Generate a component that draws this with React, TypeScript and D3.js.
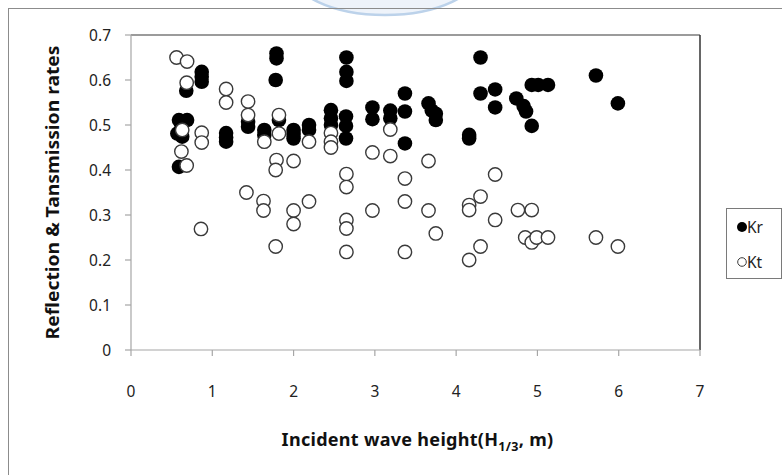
import React from "react";
import * as d3 from "d3";

const krX = [0.59, 0.69, 0.57, 0.63, 0.62, 0.59, 0.68, 0.87, 0.87, 0.87, 1.17, 1.17, 1.17, 1.44, 1.44, 1.64, 1.64, 1.79, 1.79, 1.78, 1.82, 2.0, 2.0, 2.0, 2.19, 2.19, 2.46, 2.46, 2.46, 2.65, 2.65, 2.65, 2.645, 2.645, 2.645, 2.97, 2.97, 3.19, 3.19, 3.37, 3.37, 3.37, 3.66, 3.7, 3.75, 3.75, 4.16, 4.16, 4.3, 4.3, 4.48, 4.48, 4.74, 4.83, 4.86, 4.93, 4.93, 5.01, 5.13, 5.72, 5.99];
const krY = [0.511, 0.511, 0.481, 0.474, 0.5, 0.407, 0.576, 0.618, 0.607, 0.596, 0.482, 0.472, 0.463, 0.507, 0.496, 0.489, 0.478, 0.659, 0.648, 0.6, 0.511, 0.489, 0.48, 0.47, 0.5, 0.489, 0.533, 0.515, 0.5, 0.65, 0.618, 0.598, 0.519, 0.498, 0.47, 0.539, 0.513, 0.532, 0.515, 0.57, 0.53, 0.459, 0.548, 0.532, 0.525, 0.511, 0.478, 0.47, 0.65, 0.57, 0.579, 0.539, 0.559, 0.542, 0.53, 0.498, 0.589, 0.589, 0.589, 0.61, 0.548];

const ktX = [0.56, 0.69, 0.685, 0.63, 0.87, 0.87, 0.62, 0.685, 0.861, 1.17, 1.17, 1.44, 1.44, 1.42, 1.64, 1.63, 1.63, 1.82, 1.82, 1.79, 1.78, 1.78, 2.0, 2.0, 2.0, 2.19, 2.19, 2.46, 2.46, 2.46, 2.65, 2.65, 2.65, 2.65, 2.65, 2.97, 2.97, 3.19, 3.19, 3.37, 3.37, 3.37, 3.66, 3.66, 3.75, 4.16, 4.16, 4.16, 4.3, 4.3, 4.48, 4.48, 4.76, 4.93, 4.85, 4.93, 4.99, 5.13, 5.72, 5.99];
const ktY = [0.65, 0.641, 0.594, 0.489, 0.483, 0.461, 0.441, 0.41, 0.269, 0.58, 0.55, 0.552, 0.522, 0.35, 0.463, 0.331, 0.31, 0.522, 0.481, 0.422, 0.4, 0.23, 0.42, 0.31, 0.28, 0.463, 0.33, 0.482, 0.463, 0.45, 0.391, 0.362, 0.289, 0.27, 0.218, 0.439, 0.31, 0.49, 0.431, 0.381, 0.33, 0.218, 0.42, 0.31, 0.259, 0.322, 0.311, 0.2, 0.341, 0.23, 0.39, 0.289, 0.311, 0.311, 0.25, 0.239, 0.25, 0.25, 0.25, 0.23];

const xTicks = [0, 1, 2, 3, 4, 5, 6, 7];
const yTicks = [0, 0.1, 0.2, 0.3, 0.4, 0.5, 0.6, 0.7];
const seriesNames = ["Kr", "Kt"];

const FONT = "'Noto Sans', 'DejaVu Sans', sans-serif";

export default function App() {
  const left = 131, right = 700, top = 35, bottom = 350;
  const x = d3.scaleLinear().domain([0, 7]).range([left, right]);
  const y = d3.scaleLinear().domain([0, 0.7]).range([bottom, top]);
  const r = 7.3;

  return (
    <svg width={782} height={475} style={{ position: "absolute", left: 0, top: 0, background: "#fff" }}>
      <rect x={0} y={0} width={782} height={475} fill="#fff" />
      {/* faint watermark arc */}
      <ellipse cx={385} cy={-30} rx={95} ry={45} fill="#eef3fa" stroke="#bcd2ea" strokeWidth={2.5} />
      {/* outer chart border */}
      <rect x={8.5} y={8.5} width={800} height={500} fill="none" stroke="#8c8c8c" strokeWidth={1} />

      {/* plot area border: top and right */}
      <line x1={left} x2={right} y1={top} y2={top} stroke="#7a7a7a" strokeWidth={1.5} />
      <line x1={right} x2={right} y1={top} y2={bottom} stroke="#333" strokeWidth={1.5} />

      {/* axes */}
      <line x1={left} x2={left} y1={top} y2={bottom} stroke="#a6a6a6" strokeWidth={1.2} />
      <line x1={left} x2={right} y1={bottom} y2={bottom} stroke="#a6a6a6" strokeWidth={1.2} />
      {yTicks.map((t) => (
        <g key={"y" + t}>
          <line x1={left - 6} x2={left} y1={y(t)} y2={y(t)} stroke="#a6a6a6" strokeWidth={1.2} />
          <text x={111} y={y(t)} dy="0.36em" textAnchor="end" fontFamily={FONT} fontSize={15.5} fill="#222">
            {t === 0 ? "0" : t.toFixed(1)}
          </text>
        </g>
      ))}
      {xTicks.map((t) => (
        <g key={"x" + t}>
          <line x1={x(t)} x2={x(t)} y1={bottom} y2={bottom + 6} stroke="#a6a6a6" strokeWidth={1.2} />
          <text x={x(t)} y={391} dy="0.36em" textAnchor="middle" fontFamily={FONT} fontSize={15.5} fill="#222">
            {t}
          </text>
        </g>
      ))}

      {/* series Kr (filled) */}
      {krX.map((v, i) => (
        <circle key={"kr" + i} cx={x(v)} cy={y(krY[i])} r={r} fill="#000" />
      ))}
      {/* series Kt (open) */}
      {ktX.map((v, i) => (
        <circle key={"kt" + i} cx={x(v)} cy={y(ktY[i])} r={r - 0.6} fill="#fff" stroke="#3a3a3a" strokeWidth={1.4} />
      ))}

      {/* axis titles */}
      <text
        transform={`translate(59, ${(top + bottom) / 2}) rotate(-90)`}
        textAnchor="middle"
        fontFamily={FONT}
        fontWeight="bold"
        fontSize={17}
        fill="#111"
        textLength={294}
        lengthAdjust="spacingAndGlyphs"
      >
        Reflection &amp; Tansmission rates
      </text>
      <text x={(left + right) / 2 + 2} y={446} textAnchor="middle" fontFamily={FONT} fontWeight="bold" fontSize={18} letterSpacing={0.3} fill="#111">
        Incident wave height(H<tspan fontSize={12.5} dy={5}>1/3</tspan><tspan dy={-5}>, m)</tspan>
      </text>

      {/* legend */}
      <rect x={726.5} y={208.5} width={55} height={70} fill="#fff" stroke="#7a7a7a" strokeWidth={1} />
      <circle cx={742} cy={227} r={5} fill="#000" />
      <text x={747} y={227} dy="0.36em" fontFamily={FONT} fontSize={15.5} fill="#222">{seriesNames[0]}</text>
      <circle cx={742} cy={262} r={4.3} fill="#fff" stroke="#3a3a3a" strokeWidth={1} />
      <text x={747} y={262} dy="0.36em" fontFamily={FONT} fontSize={15.5} fill="#222">{seriesNames[1]}</text>
    </svg>
  );
}
